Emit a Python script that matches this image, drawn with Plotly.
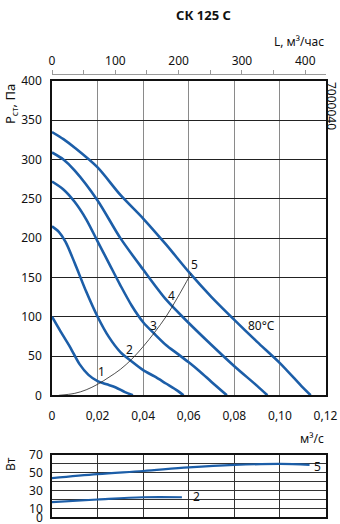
import plotly.graph_objects as go

# ---- data ----
c5_x = [0, 0.005, 0.01, 0.02, 0.03, 0.04, 0.05, 0.06, 0.07, 0.08, 0.09, 0.10, 0.11, 0.1135]
c5_y = [335, 326, 315, 290, 255, 225, 192, 157, 125, 96, 68, 41, 10, 0]
c4_x = [0, 0.005, 0.01, 0.02, 0.03, 0.04, 0.05, 0.06, 0.07, 0.08, 0.09, 0.0945]
c4_y = [309, 300, 286, 248, 200, 160, 122, 92, 64, 37, 12, 0]
c3_x = [0, 0.005, 0.01, 0.015, 0.02, 0.025, 0.03, 0.035, 0.04, 0.045, 0.05, 0.055, 0.06, 0.065, 0.07, 0.0767]
c3_y = [272, 262, 246, 224, 196, 168, 140, 114, 93, 78, 64, 53, 42, 30, 17, 0]
c2_x = [0, 0.003, 0.006, 0.01, 0.015, 0.02, 0.025, 0.03, 0.035, 0.04, 0.045, 0.05, 0.055, 0.0577]
c2_y = [215, 208, 195, 168, 132, 100, 74, 55, 43, 32, 24, 15, 6, 0]
c1_x = [0, 0.004, 0.008, 0.012, 0.016, 0.02, 0.024, 0.028, 0.032, 0.0355]
c1_y = [100, 80, 61, 40, 26, 18, 14, 10, 4, 0]
sys_x = [0.003, 0.01, 0.015, 0.02, 0.025, 0.03, 0.035, 0.04, 0.045, 0.05, 0.055, 0.061]
sys_y = [0, 2.5, 7, 14, 23, 33, 46, 62, 80, 100, 124, 155]

p5_x = [0, 0.02, 0.04, 0.06, 0.08, 0.10, 0.113]
p5_y = [44, 48.5, 52, 56, 58.8, 60, 59]
p2_x = [0, 0.02, 0.04, 0.057]
p2_y = [17, 20, 22.5, 22.5]

curve_labels = ["1", "2", "3", "4", "5"]
label_x = [0.0218, 0.0339, 0.0445, 0.0525, 0.0627]
label_y = [30, 58, 89, 127, 166]

x_ticks = [0, 0.02, 0.04, 0.06, 0.08, 0.10, 0.12]
x_ticktext = ["0", "0,02", "0,04", "0,06", "0,08", "0,10", "0,12"]
y_ticks = list(range(0, 401, 50))
top_ticks = [0, 100, 200, 300, 400]
w_ticks = [0, 10, 30, 50, 70]
w_minor = [20, 40, 60]

BLUE = "#1c5ea8"
FONT = "Noto Sans"

fig = go.Figure()
for xs, ys in [(c5_x, c5_y), (c4_x, c4_y), (c3_x, c3_y), (c2_x, c2_y), (c1_x, c1_y)]:
    fig.add_trace(go.Scatter(x=xs, y=ys, mode="lines", line=dict(color=BLUE, width=2.6, shape="spline", smoothing=0.8),
                             xaxis="x", yaxis="y", hoverinfo="skip"))
fig.add_trace(go.Scatter(x=sys_x, y=sys_y, mode="lines", line=dict(color="#222", width=0.8, shape="spline"),
                         xaxis="x", yaxis="y", hoverinfo="skip"))
for xs, ys in [(p5_x, p5_y), (p2_x, p2_y)]:
    fig.add_trace(go.Scatter(x=xs, y=ys, mode="lines", line=dict(color=BLUE, width=2.2, shape="spline"),
                             xaxis="x2", yaxis="y2", hoverinfo="skip"))
# anchor trace for the top (m3/h) axis
fig.add_trace(go.Scatter(x=[0], y=[0], mode="markers", marker=dict(opacity=0), xaxis="x3", yaxis="y", hoverinfo="skip"))

xd = [52 / 340, 325.5 / 340]
fig.update_layout(
    width=340, height=524, margin=dict(l=0, r=0, t=0, b=0, pad=0, autoexpand=False),
    paper_bgcolor="white", plot_bgcolor="white", showlegend=False,
    font=dict(family=FONT, size=12, color="#111"),
    xaxis=dict(domain=xd, range=[0, 0.12], tickvals=x_ticks, ticktext=x_ticktext,
               showgrid=True, gridcolor="#8a8a8a", gridwidth=1.2, zeroline=False,
               showline=True, linecolor="#111", linewidth=1.5, mirror=True,
               ticks="", ticklabelstandoff=9, anchor="y", automargin=False, ticklabeloverflow="allow"),
    yaxis=dict(domain=[1 - 395.3 / 524, 1 - 81 / 524], range=[0, 400], tickvals=y_ticks,
               showgrid=True, gridcolor="#222", gridwidth=1, zeroline=False,
               showline=True, linecolor="#111", linewidth=1.5, mirror=True,
               ticks="", ticklabelstandoff=6, anchor="x", automargin=False),
    xaxis2=dict(domain=xd, range=[0, 0.12], tickvals=x_ticks, showticklabels=False,
                showgrid=True, gridcolor="#333", gridwidth=1, zeroline=False,
                showline=True, linecolor="#111", linewidth=1.5, mirror=True, ticks="", anchor="y2",
                automargin=False),
    yaxis2=dict(domain=[1 - 517.3 / 524, 1 - 455 / 524], range=[0, 70], tickvals=w_ticks,
                showgrid=True, gridcolor="#333", gridwidth=1, zeroline=False,
                minor=dict(tickvals=w_minor, showgrid=True, gridcolor="#333", gridwidth=1, ticks=""),
                showline=True, linecolor="#111", linewidth=1.5, mirror=True,
                ticks="", ticklabelstandoff=5, anchor="x2", automargin=False, ticklabeloverflow="allow"),
    xaxis3=dict(overlaying="x", anchor="free", position=1 - 74 / 524, side="top",
                range=[0, 432], tickvals=top_ticks, showgrid=False, zeroline=False,
                showline=True, linecolor="#999", linewidth=1,
                ticks="outside", ticklen=4, tickcolor="#999", automargin=False,
                minor=dict(dtick=50, ticks="outside", ticklen=4, tickcolor="#999")),
)


def note(text, x, y, xref="paper", yref="paper", size=12, angle=0, xanchor="center"):
    if xref == "paper":
        x = x / 340
    if yref == "paper":
        y = 1 - y / 524
    return dict(text=text, x=x, y=y, xref=xref, yref=yref, showarrow=False, textangle=angle,
                xanchor=xanchor, yanchor="middle", font=dict(size=size))


ann = []
for t, x, y in zip(curve_labels, label_x, label_y):
    ann.append(note(t, x, y, "x", "y"))
ann.append(note("80°C", 0.0917, 89, "x", "y"))
ann.append(note("5", 0.1165, 57, "x2", "y2"))
ann.append(note("2", 0.0636, 23, "x2", "y2"))
ann.append(note("<b>СК 125 С</b>", 203, 15, size=13))
ann.append(note("L, м³/час", 326, 42, xanchor="right"))
ann.append(note("P<sub>ст</sub>, Па", 11, 104, size=13, angle=-90))
ann.append(note("7000040", 332, 106, angle=90))
ann.append(note("м³/с", 326, 438, xanchor="right"))
ann.append(note("Вт", 10, 464, angle=-90))
fig.update_layout(annotations=ann)

fig.write_html("out.html")
